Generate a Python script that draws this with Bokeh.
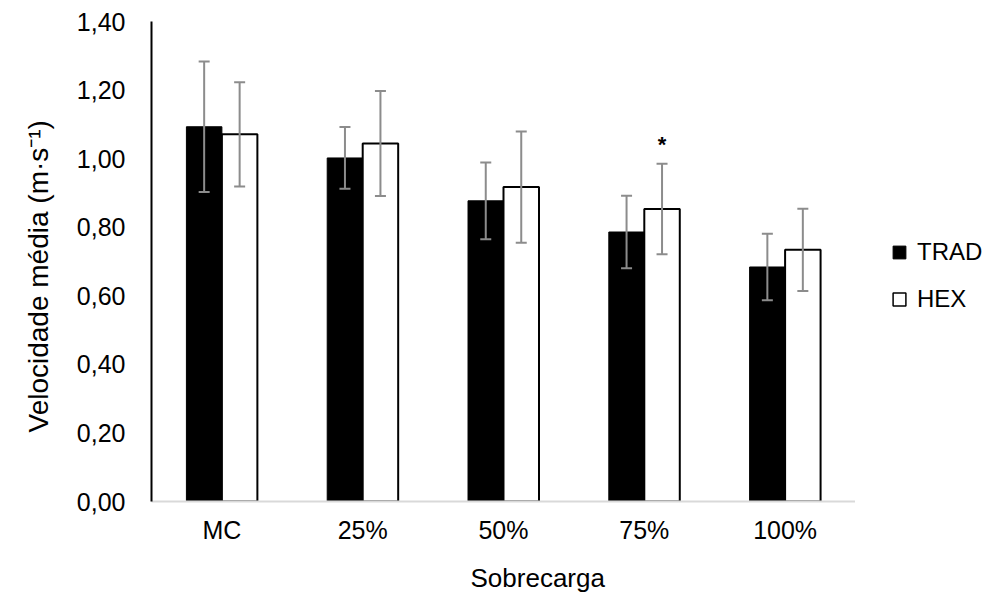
from bokeh.plotting import figure
from bokeh.models import (FactorRange, Range1d, ColumnDataSource, Whisker, TeeHead,
                          FixedTicker, CustomJSTickFormatter, Legend, LegendItem, Title)
from bokeh.layouts import row
from bokeh.transform import dodge
from bokeh.core.properties import value
from bokeh.embed import file_html
from bokeh.resources import INLINE

# ---- data ----
categories = ["MC", "25%", "50%", "75%", "100%"]
trad_mean = [1.093, 1.002, 0.877, 0.786, 0.684]
trad_sd = [0.190, 0.090, 0.112, 0.106, 0.097]
hex_mean = [1.071, 1.044, 0.917, 0.853, 0.734]
hex_sd = [0.152, 0.153, 0.162, 0.132, 0.120]
hex_marks = ["", "", "", "*", ""]
y_ticks = [0.0, 0.2, 0.4, 0.6, 0.8, 1.0, 1.2, 1.4]
series_names = ["TRAD", "HEX"]
x_title = "Sobrecarga"
y_title = "Velocidade média (m·s⁻¹)"

FONT = "Liberation Sans"
ERR = "#8c8c8c"

src = ColumnDataSource(dict(
    cat=categories,
    trad=trad_mean,
    trad_lo=[m - s for m, s in zip(trad_mean, trad_sd)],
    trad_hi=[m + s for m, s in zip(trad_mean, trad_sd)],
    hex=hex_mean,
    hex_lo=[m - s for m, s in zip(hex_mean, hex_sd)],
    hex_hi=[m + s for m, s in zip(hex_mean, hex_sd)],
    mark=hex_marks,
))

p = figure(x_range=FactorRange(*categories, range_padding=0),
           y_range=Range1d(0, 1.4),
           width=855, height=607,
           min_border_left=143, min_border_right=0,
           min_border_top=21, min_border_bottom=102,
           output_backend="svg", toolbar_location=None)

off = 0.126
bw = 0.252
TRAD_STYLE = dict(fill_color="black", line_color="black", line_width=1)
HEX_STYLE = dict(fill_color="white", line_color="black", line_width=2)
p.vbar(x=dodge("cat", -off, range=p.x_range), top="trad", width=bw, source=src, **TRAD_STYLE)
p.vbar(x=dodge("cat", off, range=p.x_range), top="hex", width=bw, source=src, **HEX_STYLE)

for base, lo, hi in [(dodge("cat", -off, range=p.x_range), "trad_lo", "trad_hi"),
                     (dodge("cat", off, range=p.x_range), "hex_lo", "hex_hi")]:
    w = Whisker(base=base, lower=lo, upper=hi, source=src,
                line_color=ERR, line_width=2, level="overlay",
                upper_head=TeeHead(size=11, line_color=ERR, line_width=2),
                lower_head=TeeHead(size=11, line_color=ERR, line_width=2))
    p.add_layout(w)

p.text(x=dodge("cat", off, range=p.x_range), y="hex_hi", text="mark", source=src,
       text_align="center", text_baseline="middle", y_offset=-19,
       text_font=value(FONT), text_font_size="22px", text_font_style="bold",
       text_color="black")

p.xgrid.grid_line_color = None
p.ygrid.grid_line_color = None
p.outline_line_color = None
p.background_fill_color = "white"
p.border_fill_color = "white"

p.yaxis.ticker = FixedTicker(ticks=y_ticks)
p.yaxis.formatter = CustomJSTickFormatter(code="return tick.toFixed(2).replace('.', ',');")
p.yaxis.axis_line_color = "black"
p.yaxis.axis_line_width = 2
p.yaxis.major_tick_line_color = None
p.yaxis.minor_tick_line_color = None
p.yaxis.major_label_standoff = 20

p.xaxis.axis_line_color = "#d9d9d9"
p.xaxis.axis_line_width = 2
p.xaxis.major_tick_line_color = None
p.xaxis.minor_tick_line_color = None
p.xaxis.major_label_standoff = 8

for ax in (p.xaxis[0], p.yaxis[0]):
    ax.major_label_text_font = FONT
    ax.major_label_text_font_size = "25px"
    ax.major_label_text_color = "black"
    ax.major_label_text_line_height = 1.0
p.xaxis.major_label_text_line_height = 0.8

# axis titles (as side titles so they can sit where the reference has them)
p.add_layout(Title(text=x_title, align="left", offset=319, standoff=29,
                   text_font=FONT, text_font_size="26px", text_font_style="normal",
                   text_color="black", text_line_height=1.0), "below")
p.add_layout(Title(text=y_title, align="left", offset=69, standoff=40,
                   text_font=FONT, text_font_size="28px", text_font_style="normal",
                   text_color="black", text_line_height=1.0), "left")

# ---- legend panel (narrow figure to the right of the plot area) ----
p2 = figure(width=137, height=607, x_range=FactorRange(*categories), y_range=Range1d(0, 1.4),
            x_axis_type=None, y_axis_type=None,
            min_border_left=0, min_border_right=0, min_border_top=0, min_border_bottom=0,
            output_backend="svg", toolbar_location=None)
p2.xgrid.grid_line_color = None
p2.ygrid.grid_line_color = None
p2.outline_line_color = None
p2.background_fill_color = "white"
p2.border_fill_color = "white"
# hidden proxies of the two series, used only for the legend swatches
k1 = p2.vbar(x="cat", top="trad", width=bw, source=src, visible=False, **TRAD_STYLE)
k2 = p2.vbar(x="cat", top="hex", width=bw, source=src, visible=False,
             fill_color="white", line_color="black", line_width=1.5)

legend = Legend(items=[LegendItem(label=series_names[0], renderers=[k1]),
                       LegendItem(label=series_names[1], renderers=[k2])],
                location=(36, 188), orientation="vertical",
                border_line_color=None, background_fill_alpha=0,
                inactive_fill_alpha=0,
                padding=0, margin=0, spacing=19,
                glyph_width=16, glyph_height=16, label_height=28,
                label_standoff=10,
                label_text_font=FONT, label_text_font_size="24px",
                label_text_color="black")
p2.add_layout(legend, "center")

layout = row(p, p2, spacing=0)
open("out.html", "w").write(file_html(layout, INLINE))
